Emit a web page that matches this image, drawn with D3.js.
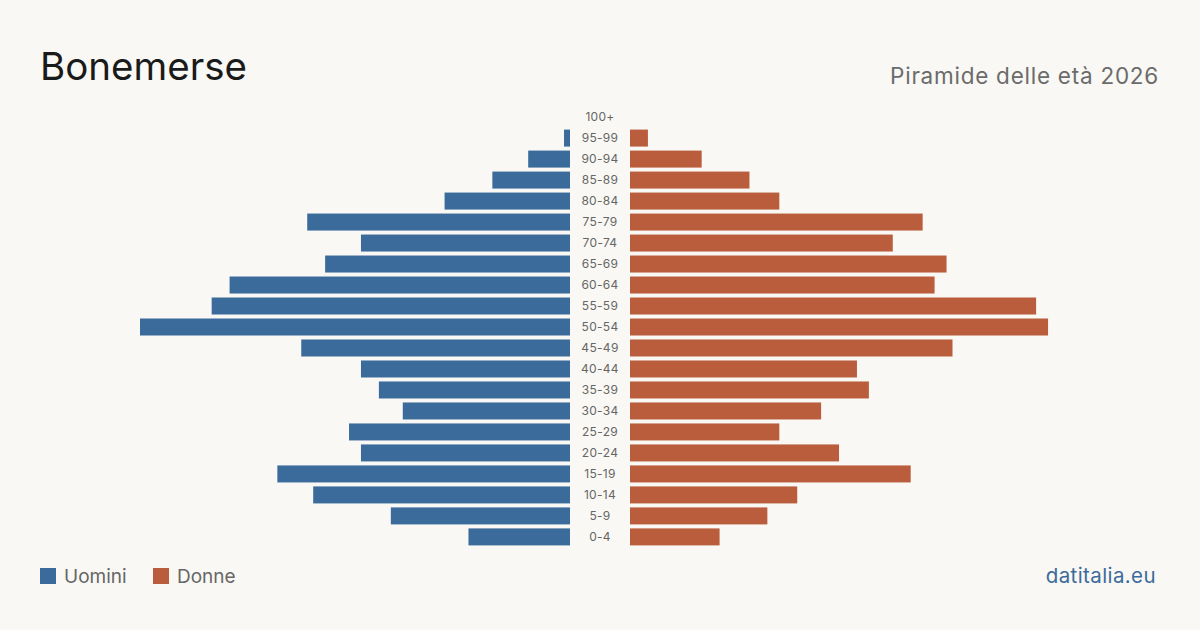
<!DOCTYPE html>
<meta charset="utf-8">
<script src="https://d3js.org/d3.v7.min.js"></script>
<style>
  body { margin: 0; background: #f9f8f4; }
  text { font-family: Inter, "Noto Sans", sans-serif; }
</style>
<div id="chart"></div>
<script>
// age groups, top to bottom
const ageGroups = ["100+", "95-99", "90-94", "85-89", "80-84", "75-79", "70-74", "65-69", "60-64", "55-59",
  "50-54", "45-49", "40-44", "35-39", "30-34", "25-29", "20-24", "15-19", "10-14", "5-9", "0-4"]
const men = [0, 1, 7, 13, 21, 44, 35, 41, 57, 60, 72, 45, 35, 32, 28, 37, 35, 49, 43, 30, 17]
const women = [0, 3, 12, 20, 25, 49, 44, 53, 51, 68, 70, 54, 38, 40, 32, 25, 35, 47, 28, 23, 15]

const W = 1200, H = 630
const blue = "#3b6b9b", red = "#b95d3d"

const svg = d3.select("#chart").append("svg")
  .attr("width", W).attr("height", H)

svg.append("rect").attr("width", W).attr("height", H).attr("fill", "#f9f8f4")

const y = d3.scaleBand()
  .domain(ageGroups)
  .range([106.5, 547.5])
  .paddingInner(0.19)
  .paddingOuter(0.1)

const maxV = d3.max(men.concat(women))
const xL = d3.scaleLinear().domain([0, maxV]).range([570, 140])
const xR = d3.scaleLinear().domain([0, maxV]).range([630, 1060])

// left bars (Uomini)
svg.append("g").selectAll("rect")
  .data(ageGroups.map((g, i) => ({ g, v: men[i] })))
  .join("rect")
  .attr("x", d => xL(d.v))
  .attr("y", d => y(d.g))
  .attr("width", d => xL(0) - xL(d.v))
  .attr("height", y.bandwidth())
  .attr("fill", blue)

// right bars (Donne)
svg.append("g").selectAll("rect")
  .data(ageGroups.map((g, i) => ({ g, v: women[i] })))
  .join("rect")
  .attr("x", xR(0))
  .attr("y", d => y(d.g))
  .attr("width", d => xR(d.v) - xR(0))
  .attr("height", y.bandwidth())
  .attr("fill", red)

// age labels in the middle
svg.append("g").selectAll("text")
  .data(ageGroups)
  .join("text")
  .attr("x", 600)
  .attr("y", d => y(d) + y.bandwidth() / 2)
  .attr("dy", "0.35em")
  .attr("text-anchor", "middle")
  .attr("font-size", 12)
  .attr("letter-spacing", 0.3)
  .attr("fill", "#666")
  .text(d => d)

// title + subtitle
svg.append("text")
  .attr("x", 40).attr("y", 80)
  .attr("font-size", 38.5)
  .attr("fill", "#1a1a1a")
  .text("Bonemerse")

svg.append("text")
  .attr("x", 1159).attr("y", 84)
  .attr("text-anchor", "end")
  .attr("font-size", 22.5)
  .attr("letter-spacing", 0.75)
  .attr("fill", "#6b6b6b")
  .text("Piramide delle età 2026")

// legend
const legend = [{ name: "Uomini", c: blue, x: 40 }, { name: "Donne", c: red, x: 153 }]
const lg = svg.append("g").selectAll("g").data(legend).join("g")
  .attr("transform", d => `translate(${d.x},568)`)
lg.append("rect").attr("width", 16).attr("height", 16).attr("fill", d => d.c)
lg.append("text")
  .attr("x", 24).attr("y", 8).attr("dy", "0.36em")
  .attr("font-size", 19)
  .attr("fill", "#666")
  .text(d => d.name)

svg.append("text")
  .attr("x", 1156).attr("y", 583)
  .attr("text-anchor", "end")
  .attr("font-size", 20.5)
  .attr("letter-spacing", 0.4)
  .attr("fill", blue)
  .text("datitalia.eu")
</script>
